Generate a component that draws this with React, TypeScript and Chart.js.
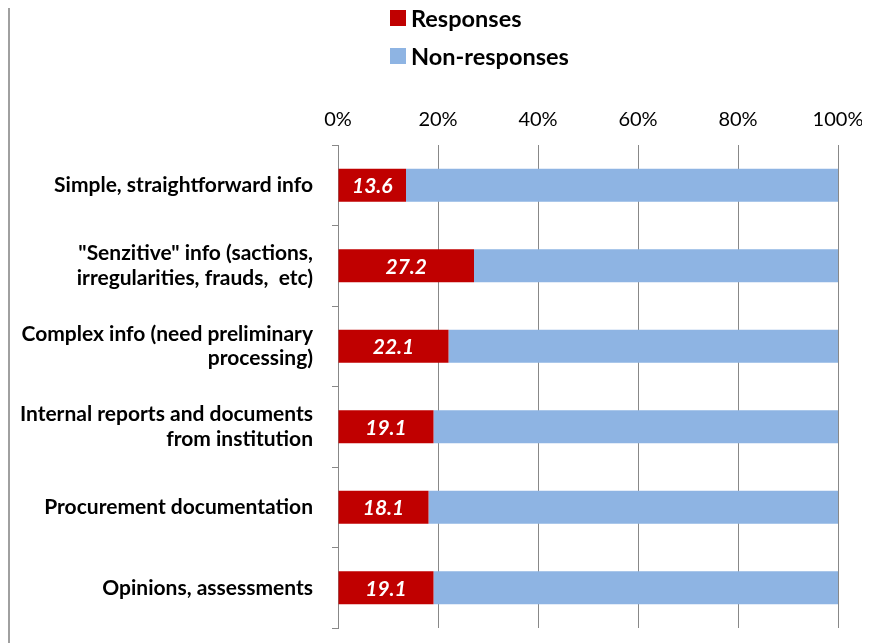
import React, { useEffect, useRef } from "react";
import { Chart, registerables } from "chart.js";

Chart.register(...registerables);

const categories: (string | string[])[] = [
  "Simple, straightforward info",
  ['"Senzitive" info (sactions,', "irregularities, frauds,  etc)"],
  ["Complex info (need preliminary", "processing)"],
  ["Internal reports and documents", "from institution"],
  "Procurement documentation",
  "Opinions, assessments",
];
const responses = [13.6, 27.2, 22.1, 19.1, 18.1, 19.1];
const nonResponses = [86.4, 72.8, 77.9, 80.9, 81.9, 80.9];
const xTicks = [0, 20, 40, 60, 80, 100];
const seriesNames = ["Responses", "Non-responses"];
const seriesColors = ["#C00000", "#8EB4E3"];

const FONT = "Lato, 'Open Sans', sans-serif";

const labelPlugin = {
  id: "barLabels",
  afterDatasetsDraw(chart: any) {
    const ctx = chart.ctx;
    const meta = chart.getDatasetMeta(0);
    ctx.save();
    ctx.fillStyle = "#ffffff";
    ctx.font = `italic bold 21px ${FONT}`;
    ctx.textAlign = "center";
    ctx.textBaseline = "middle";
    meta.data.forEach((bar: any, i: number) => {
      const p = bar.getProps(["x", "base", "y"], true);
      ctx.fillText(responses[i].toFixed(1), (p.x + p.base) / 2, p.y + 1);
    });
    ctx.restore();
  },
};

export default function App() {
  const ref = useRef<HTMLCanvasElement>(null);
  useEffect(() => {
    if (!ref.current) return;
    const chart = new Chart(ref.current, {
      type: "bar",
      data: {
        labels: categories,
        datasets: [
          {
            label: seriesNames[0],
            data: responses,
            backgroundColor: seriesColors[0],
            categoryPercentage: 0.82,
            barPercentage: 0.5,
          },
          {
            label: seriesNames[1],
            data: nonResponses,
            backgroundColor: seriesColors[1],
            categoryPercentage: 0.82,
            barPercentage: 0.5,
          },
        ],
      },
      options: {
        indexAxis: "y",
        animation: false,
        responsive: false,
        maintainAspectRatio: false,
        layout: { padding: { top: 0, right: 32, bottom: 15, left: 0 } },
        plugins: { legend: { display: false }, tooltip: { enabled: false } },
        scales: {
          x: {
            position: "top",
            stacked: true,
            min: 0,
            max: 100,
            afterBuildTicks: (s: any) => {
              s.ticks = xTicks.map((v) => ({ value: v }));
            },
            afterFit: (s: any) => {
              s.height = 137;
              s.paddingLeft = 0;
              s.paddingRight = 0;
            },
            ticks: {
              callback: (v: any) => v + "%",
              color: "#000",
              font: { family: FONT, size: 20 },
              padding: 13,
            },
            grid: { color: "#888", lineWidth: 1, drawTicks: false },
            border: { display: false },
          },
          y: {
            stacked: true,
            afterFit: (s: any) => {
              s.width = 328;
              s.paddingTop = 0;
              s.paddingBottom = 0;
            },
            ticks: {
              color: "#000",
              font: { family: FONT, size: 21, weight: "bold", lineHeight: 1.15 },
              padding: 19,
            },
            grid: {
              offset: true,
              drawOnChartArea: false,
              drawTicks: true,
              tickLength: 6,
              color: "#888",
            },
            border: { display: true, color: "#888", width: 1 },
          },
        },
      },
      plugins: [labelPlugin],
    } as any);
    return () => chart.destroy();
  }, []);

  const legendItem = (i: number, top: number) => (
    <div
      key={i}
      style={{
        position: "absolute",
        left: 380,
        top,
        display: "flex",
        alignItems: "center",
        fontFamily: FONT,
        fontWeight: "bold",
        fontSize: 23.5,
        color: "#000",
        lineHeight: "24px",
        whiteSpace: "nowrap",
      }}
    >
      <span
        style={{
          display: "inline-block",
          width: 16,
          height: 16,
          background: seriesColors[i],
          marginRight: 5,
        }}
      />
      {seriesNames[i]}
    </div>
  );

  return (
    <div
      style={{
        position: "relative",
        width: 860,
        height: 635,
        borderLeft: "2px solid #a0a0a0",
        background: "#fff",
      }}
    >
      {legendItem(0, -2)}
      {legendItem(1, 36)}
      <canvas ref={ref} width={860} height={635} style={{ display: "block" }} />
    </div>
  );
}
